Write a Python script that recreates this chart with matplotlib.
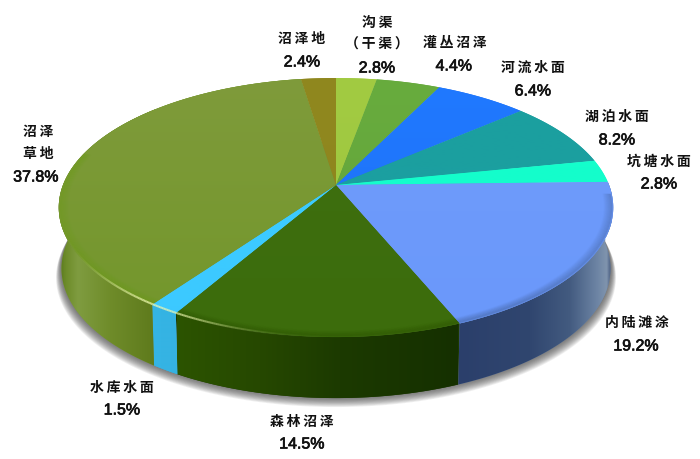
import numpy as np
import matplotlib
matplotlib.use("Agg")
import matplotlib.pyplot as plt
import matplotlib.patheffects as pe
from matplotlib.patches import Polygon
from matplotlib.colors import LinearSegmentedColormap, to_rgb
from matplotlib.collections import LineCollection

# ---------- data ----------
categories = ["沟渠\n（干渠）", "灌丛沼泽", "河流水面", "湖泊水面", "坑塘水面",
              "内陆滩涂", "森林沼泽", "水库水面", "沼泽\n草地", "沼泽地"]
values = [2.8, 4.4, 6.4, 8.2, 2.8, 19.2, 14.5, 1.5, 37.8, 2.4]

# ---------- styles ----------
top_colors = [("#a2cb42", "#9cc43e"), ("#68ac3e", "#62a23a"), ("#2079ff", "#1d70f5"),
              ("#1c9f9f", "#1a9fa2"), ("#14ffcc", "#14fccb"), ("#709cfb", "#6a98fa"),
              ("#3f7010", "#3c6c0c"), ("#3ccfff", "#3cc8ff"), ("#7f9b3b", "#72962a"),
              ("#90881f", "#8e841c")]
wall_stops = {
    5: [(458, "#2b3f6b"), (530, "#30466f"), (570, "#435b80"), (598, "#6e85a5"),
        (607, "#8094ae"), (612, "#3b4f75")],
    6: [(177, "#2c5400"), (260, "#264800"), (340, "#1c3a00"), (458, "#153000")],
    7: [(150, "#35b5e5"), (182, "#35b2e2")],
    8: [(58, "#55741a"), (66, "#6d8c2a"), (78, "#7f9c40"), (110, "#6f8c2a"), (155, "#5e7a1c")],
}
rim_colors = {5: "#37517f", 6: "#2a5000", 8: "#6a9c12"}
label_xy = [(377, 34), (455, 43), (533, 68), (617, 117), (659, 162),
            (637, 323), (302, 422), (122, 388), (38, 143), (302, 39)]
value_xy = [(377, 68), (454, 66), (533, 91), (617, 140), (659, 184),
            (636, 346), (302, 444), (122, 410), (36, 177), (302, 62)]

cx, cy, A, B, p = 336.0, 185.0, 125.6, 273.0, 0.174
depth, base_scale = 61.0, 0.99


def proj(t, r=1.0):
    X, Y = r * np.sin(t), r * np.cos(t)
    d = 1 + p * Y
    return cx + B * X / d, cy - A * Y / d


def arc(a0, a1, r=1.0, n=None):
    n = n or max(int(abs(a1 - a0) * 90), 3)
    return np.column_stack(proj(np.linspace(a0, a1, n), r))


def base(pts, grow=1.0, dy=depth):
    out = pts.copy()
    out[:, 0] = cx + (out[:, 0] - cx) * base_scale * grow
    out[:, 1] = out[:, 1] + dy
    return out


def gradient_fill(ax, pts, stops, horizontal, zorder):
    pos, cols = zip(*stops)
    lo, hi = min(pos), max(pos)
    cmap = LinearSegmentedColormap.from_list(
        "g", [((q - lo) / (hi - lo), c) for q, c in stops])
    g = np.linspace(0, 1, 256)
    if horizontal:
        im = ax.imshow(g[None, :], cmap=cmap, aspect="auto", zorder=zorder,
                       extent=(lo, hi, 470, 0), interpolation="bilinear")
    else:
        im = ax.imshow(g[:, None], cmap=cmap, aspect="auto", zorder=zorder, origin="upper",
                       extent=(0, 700, hi, lo), interpolation="bilinear")
    under = Polygon(pts, closed=True, facecolor=cols[len(cols) // 2], edgecolor="none",
                    zorder=zorder - 0.1)
    ax.add_patch(under)
    clip = Polygon(pts, closed=True, transform=ax.transData)
    im.set_clip_path(clip)


plt.rcParams["font.family"] = ["Noto Sans CJK SC", "DejaVu Sans"]
fig = plt.figure(figsize=(7.0, 4.59), dpi=100, facecolor="white")
ax = fig.add_axes([0, 0, 1, 1])

fracs = np.array(values) / sum(values)
edges = np.concatenate([[0], np.cumsum(fracs)]) * 2 * np.pi

# ground shadow
full = arc(0, 2 * np.pi, n=360)
for i in range(12):
    ax.add_patch(Polygon(base(full, grow=1.02 - i * 0.0016, dy=depth + 9 - i * 0.8),
                         closed=True, facecolor="#444444", alpha=0.085,
                         edgecolor="none", zorder=1.5))

# side wall, then top face
for i, (a0, a1) in enumerate(zip(edges[:-1], edges[1:])):
    if i in wall_stops:
        rim = arc(a0, a1)
        gradient_fill(ax, np.vstack([rim, base(rim)[::-1]]), wall_stops[i], True, 2 + i * 0.01)

for i, (a0, a1) in enumerate(zip(edges[:-1], edges[1:])):
    wedge = np.vstack([[cx, cy], arc(a0, a1)])
    gradient_fill(ax, wedge, [(78, top_colors[i][0]), (345, top_colors[i][1])], False, 3 + i * 0.01)

# soft bevel along the near edge
for i, col in rim_colors.items():
    a0, a1 = edges[i], edges[i + 1]
    if i == 5:
        a0 = np.deg2rad(94)
    if i == 8:
        a1 = np.deg2rad(285)
    for r, alpha in zip(np.linspace(0.97, 0.996, 8), np.linspace(0.03, 0.2, 8)):
        ax.plot(*arc(a0, a1, r).T, color=col, lw=1.4, alpha=alpha, zorder=4,
                solid_capstyle="butt")

# glossy highlight on the rim
angs = np.deg2rad(np.linspace(170, 250, 220))
pts = np.column_stack(proj(angs, 0.998))
segs = np.stack([pts[:-1], pts[1:]], axis=1)
peak = np.deg2rad(214)
glow = np.exp(-((angs[:-1] - peak) / np.deg2rad(15)) ** 2) * 0.75
seg_colors = np.column_stack([np.tile(to_rgb("#eef7b0"), (len(glow), 1)), glow])
ax.add_collection(LineCollection(segs, colors=seg_colors, linewidths=1.5, zorder=5))

# labels
spaced = lambda s: "\n".join("\u2009".join(line) for line in s.split("\n"))
for name, v, (lx, ly), (vx, vy) in zip(categories, values, label_xy, value_xy):
    ax.text(lx, ly, spaced(name), ha="center", va="center", fontsize=10, fontweight="bold",
            color="#111111", linespacing=1.65, zorder=6)
    ax.text(vx, vy, f"{v:.1f}%", ha="center", va="center", fontsize=11.5,
            family=["Liberation Sans"], color="#111111", zorder=6,
            path_effects=[pe.withStroke(linewidth=0.5, foreground="#111111")])

ax.set_xlim(0, 700)
ax.set_ylim(459, 0)
ax.axis("off")
fig.savefig("out.png", dpi=100, facecolor="white")
